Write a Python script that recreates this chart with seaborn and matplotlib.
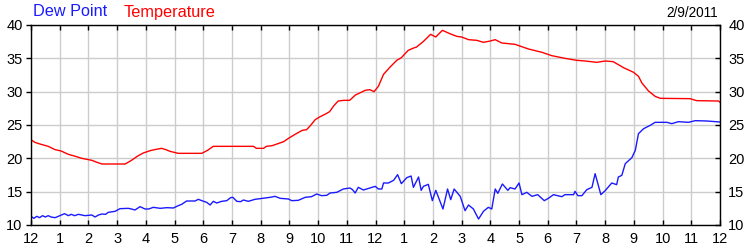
import matplotlib
matplotlib.use("Agg")
import matplotlib.pyplot as plt
import seaborn as sns
import pandas as pd

# ---- data ----
temp_hours = [0, 0.13, 0.35, 0.6, 0.84, 1.05, 1.3, 1.55, 1.77, 2.12, 2.3, 2.47, 3.28, 3.5, 3.7, 3.91,
              4.15, 4.3, 4.55, 4.7, 4.84, 5.13, 5.95, 6.15, 6.35, 7.75, 7.85, 8.1, 8.2, 8.4, 8.6, 8.8,
              8.97, 9.2, 9.45, 9.6, 9.75, 9.9, 10.05, 10.24, 10.4, 10.55, 10.7, 10.9, 11.1, 11.3, 11.45,
              11.64, 11.8, 11.95, 12.1, 12.28, 12.51, 12.74, 12.9, 13.14, 13.3, 13.43, 13.66, 13.92,
              14.1, 14.33, 14.59, 14.83, 15.0, 15.24, 15.53, 15.76, 16.0, 16.17, 16.4, 16.86, 17.33,
              17.8, 18.14, 18.6, 19.01, 19.3, 19.71, 20.0, 20.28, 20.64, 20.99, 21.16, 21.28, 21.51,
              21.74, 21.92, 22.96, 23.19, 23.95, 24.0]
temp_values = [22.8, 22.4, 22.1, 21.8, 21.3, 21.1, 20.6, 20.3, 20.0, 19.7, 19.4, 19.15, 19.15, 19.7, 20.3, 20.8,
               21.15, 21.3, 21.5, 21.3, 21.05, 20.75, 20.75, 21.2, 21.8, 21.8, 21.5, 21.5, 21.8, 21.9, 22.2, 22.5,
               23.0, 23.6, 24.2, 24.3, 25.0, 25.8, 26.2, 26.6, 27.0, 27.9, 28.6, 28.7, 28.7, 29.5, 29.8,
               30.2, 30.3, 30.0, 30.8, 32.6, 33.7, 34.7, 35.1, 36.2, 36.5, 36.7, 37.5, 38.6,
               38.2, 39.2, 38.7, 38.3, 38.2, 37.8, 37.7, 37.4, 37.6, 37.8, 37.3, 37.1, 36.4,
               35.9, 35.4, 35.0, 34.7, 34.6, 34.4, 34.6, 34.5, 33.6, 32.9, 32.3, 31.3, 30.1,
               29.3, 29.0, 28.95, 28.65, 28.6, 28.4]

dew_hours = [0, 0.1, 0.2, 0.3, 0.4, 0.5, 0.6, 0.7, 0.84, 0.95, 1.17, 1.3, 1.4, 1.52, 1.65, 1.88, 2.12,
             2.23, 2.35, 2.47, 2.6, 2.69, 2.93, 3.1, 3.39, 3.5, 3.62, 3.8, 3.97, 4.1, 4.26, 4.5, 4.73,
             4.96, 5.13, 5.25, 5.42, 5.71, 5.83, 5.95, 6.12, 6.24, 6.35, 6.47, 6.64, 6.82, 6.95, 7.03,
             7.17, 7.3, 7.4, 7.57, 7.8, 8.15, 8.33, 8.5, 8.68, 8.97, 9.08, 9.31, 9.55, 9.77, 9.95,
             10.12, 10.3, 10.42, 10.65, 10.88, 11.11, 11.2, 11.29, 11.4, 11.58, 11.81, 11.99, 12.1,
             12.22, 12.28, 12.45, 12.63, 12.77, 12.9, 13.09, 13.24, 13.32, 13.5, 13.59, 13.67, 13.84,
             13.98, 14.1, 14.35, 14.51, 14.62, 14.74, 14.95, 15.12, 15.24, 15.41, 15.59, 15.76, 15.93,
             16.05, 16.17, 16.26, 16.42, 16.61, 16.69, 16.86, 17.0, 17.1, 17.27, 17.45, 17.65, 17.88,
             18.02, 18.2, 18.49, 18.6, 18.9, 18.95, 19.05, 19.19, 19.36, 19.54, 19.65, 19.85, 20.0,
             20.23, 20.4, 20.46, 20.58, 20.7, 20.93, 21.05, 21.16, 21.34, 21.57, 21.74, 22.15, 22.32,
             22.55, 22.9, 23.14, 23.54, 24.0]
dew_values = [11.3, 11.0, 11.3, 11.1, 11.4, 11.2, 11.4, 11.2, 11.1, 11.3, 11.7, 11.4, 11.6, 11.4, 11.6, 11.4, 11.5,
              11.2, 11.5, 11.65, 11.6, 11.9, 12.05, 12.45, 12.5, 12.4, 12.25, 12.75, 12.4, 12.4, 12.65, 12.5, 12.6,
              12.55, 12.9, 13.1, 13.6, 13.6, 13.85, 13.65, 13.4, 13.0, 13.55, 13.3, 13.55, 13.65, 14.1, 14.15,
              13.55, 13.5, 13.75, 13.55, 13.85, 14.05, 14.15, 14.3, 14.0, 13.9, 13.65, 13.7, 14.15, 14.25, 14.65,
              14.4, 14.45, 14.8, 14.9, 15.4, 15.55, 15.3, 14.8, 15.65, 15.25, 15.55, 15.8, 15.4,
              15.4, 16.3, 16.3, 16.7, 17.55, 16.2, 17.1, 17.35, 15.65, 17.2, 15.2, 15.8, 16.1,
              13.65, 15.2, 12.4, 15.4, 13.8, 15.4, 14.3, 12.15, 13.0, 12.4, 10.9, 12.05, 12.65,
              12.4, 15.4, 14.75, 16.15, 15.2, 15.6, 15.4, 16.3, 14.55, 14.9, 14.3, 14.55, 13.65,
              14.0, 14.55, 14.25, 14.55, 14.55, 15.05, 14.4, 14.4, 15.3, 15.65, 17.7, 14.55, 15.15,
              16.3, 16.05, 17.2, 17.45, 19.2, 20.1, 21.2, 23.7, 24.45, 24.95, 25.4, 25.4, 25.2,
              25.5, 25.4, 25.65, 25.6, 25.45]

hour_ticks = list(range(0, 25))
hour_labels = ["12", "1", "2", "3", "4", "5", "6", "7", "8", "9", "10", "11",
               "12", "1", "2", "3", "4", "5", "6", "7", "8", "9", "10", "11", "12"]
y_ticks = [10, 15, 20, 25, 30, 35, 40]
date_label = "2/9/2011"

# ---- plot ----
sns.set_style("white")
plt.rcParams["font.family"] = ["Liberation Sans", "DejaVu Sans"]

fig = plt.figure(figsize=(7.5, 2.5), dpi=100)
ax = fig.add_axes([31 / 750, 25 / 250, 689 / 750, 200 / 250])

temp_df = pd.DataFrame({"hour": temp_hours, "value": temp_values})
dew_df = pd.DataFrame({"hour": dew_hours, "value": dew_values})

sns.lineplot(data=temp_df, x="hour", y="value", ax=ax, color="#ff0000", linewidth=1.0)
sns.lineplot(data=dew_df, x="hour", y="value", ax=ax, color="#1a1aff", linewidth=1.0)

ax.set_xlim(0, 24)
ax.set_ylim(10, 40)
ax.set_xticks(hour_ticks)
ax.set_xticklabels(hour_labels)
ax.set_yticks(y_ticks)
ax.set_yticklabels([str(v) for v in y_ticks])
ax.set_xlabel("")
ax.set_ylabel("")
ax.grid(True, color="#cccccc", linewidth=1.0)
ax.set_axisbelow(True)
for s in ax.spines.values():
    s.set_color("black")
    s.set_linewidth(1.0)

ax.tick_params(axis="x", direction="in", top=True, bottom=True, length=3.5, width=1,
               color="black", labelsize=10.5, pad=5, labelcolor="black")
ax.tick_params(axis="y", direction="out", left=True, length=3.5, width=1,
               color="black", labelsize=10.5, pad=2.5, labelcolor="black")

ax2 = ax.twinx()
ax2.set_ylim(10, 40)
ax2.set_yticks(y_ticks)
ax2.set_yticklabels([str(v) for v in y_ticks])
ax2.tick_params(axis="y", direction="in", right=True, length=3.5, width=1,
                color="black", labelsize=10.5, pad=6, labelcolor="black")
for s in ax2.spines.values():
    s.set_visible(False)

fig.text(33 / 750, 1 - 12 / 250, "Dew Point", color="#1a1aff", fontsize=11.7, va="center", ha="left")
fig.text(124 / 750, 1 - 12 / 250, "Temperature", color="#ff0000", fontsize=11.7, va="center", ha="left")
fig.text(718 / 750, 1 - 13 / 250, date_label, color="black", fontsize=9.8, va="center", ha="right")

fig.savefig("out.png", dpi=100)
